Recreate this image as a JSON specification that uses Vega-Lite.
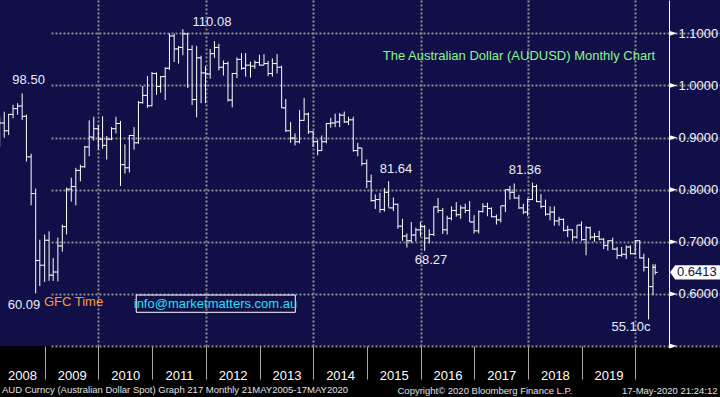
{
  "$schema": "https://vega.github.io/schema/vega-lite/v6.json",
  "width": 720,
  "height": 346,
  "autosize": {"type": "none"},
  "padding": {"left": 0, "top": 0, "right": 0, "bottom": 51},
  "background": "#000000",
  "view": {"fill": "#100f48", "stroke": null},
  "title": {
    "text": "AUD Curncy (Australian Dollar Spot) Graph 217  Monthly 21MAY2005-17MAY2020",
    "orient": "top",
    "anchor": "start",
    "frame": "group",
    "offset": 0,
    "dx": 2,
    "dy": 402,
    "baseline": "alphabetic",
    "font": "Liberation Sans",
    "fontSize": 9.5,
    "fontWeight": "normal",
    "color": "#e0e0e0"
  },
  "datasets": {
    "ohlc": [
      {"date":"2008-02-29","open":0.894,"high":0.940,"low":0.882,"close":0.928},
      {"date":"2008-03-31","open":0.928,"high":0.9497,"low":0.8995,"close":0.913},
      {"date":"2008-04-30","open":0.913,"high":0.9452,"low":0.905,"close":0.9445},
      {"date":"2008-05-30","open":0.9445,"high":0.9626,"low":0.9369,"close":0.9555},
      {"date":"2008-06-30","open":0.9555,"high":0.966,"low":0.944,"close":0.9605},
      {"date":"2008-07-31","open":0.9605,"high":0.985,"low":0.9335,"close":0.9408},
      {"date":"2008-08-29","open":0.9408,"high":0.944,"low":0.854,"close":0.863},
      {"date":"2008-09-30","open":0.863,"high":0.869,"low":0.770,"close":0.7925},
      {"date":"2008-10-31","open":0.7925,"high":0.802,"low":0.6009,"close":0.664},
      {"date":"2008-11-28","open":0.664,"high":0.704,"low":0.615,"close":0.655},
      {"date":"2008-12-31","open":0.655,"high":0.714,"low":0.623,"close":0.703},
      {"date":"2009-01-30","open":0.703,"high":0.720,"low":0.625,"close":0.636},
      {"date":"2009-02-27","open":0.636,"high":0.669,"low":0.625,"close":0.642},
      {"date":"2009-03-31","open":0.642,"high":0.708,"low":0.624,"close":0.692},
      {"date":"2009-04-30","open":0.692,"high":0.733,"low":0.681,"close":0.729},
      {"date":"2009-05-29","open":0.729,"high":0.804,"low":0.714,"close":0.801},
      {"date":"2009-06-30","open":0.801,"high":0.823,"low":0.777,"close":0.806},
      {"date":"2009-07-31","open":0.806,"high":0.842,"low":0.770,"close":0.837},
      {"date":"2009-08-31","open":0.837,"high":0.848,"low":0.816,"close":0.844},
      {"date":"2009-09-30","open":0.844,"high":0.884,"low":0.842,"close":0.882},
      {"date":"2009-10-30","open":0.882,"high":0.933,"low":0.864,"close":0.901},
      {"date":"2009-11-30","open":0.901,"high":0.940,"low":0.894,"close":0.917},
      {"date":"2009-12-31","open":0.917,"high":0.924,"low":0.877,"close":0.897},
      {"date":"2010-01-29","open":0.897,"high":0.941,"low":0.879,"close":0.885},
      {"date":"2010-02-26","open":0.885,"high":0.903,"low":0.858,"close":0.897},
      {"date":"2010-03-31","open":0.897,"high":0.920,"low":0.895,"close":0.917},
      {"date":"2010-04-30","open":0.917,"high":0.940,"low":0.908,"close":0.927},
      {"date":"2010-05-31","open":0.927,"high":0.932,"low":0.807,"close":0.848},
      {"date":"2010-06-30","open":0.848,"high":0.887,"low":0.831,"close":0.842},
      {"date":"2010-07-30","open":0.842,"high":0.905,"low":0.833,"close":0.904},
      {"date":"2010-08-31","open":0.904,"high":0.920,"low":0.877,"close":0.890},
      {"date":"2010-09-30","open":0.890,"high":0.970,"low":0.888,"close":0.967},
      {"date":"2010-10-29","open":0.967,"high":0.999,"low":0.965,"close":0.981},
      {"date":"2010-11-30","open":0.981,"high":1.018,"low":0.957,"close":0.961},
      {"date":"2010-12-31","open":0.961,"high":1.026,"low":0.960,"close":1.023},
      {"date":"2011-01-31","open":1.023,"high":1.025,"low":0.982,"close":0.998},
      {"date":"2011-02-28","open":0.998,"high":1.018,"low":0.986,"close":1.017},
      {"date":"2011-03-31","open":1.017,"high":1.035,"low":0.972,"close":1.033},
      {"date":"2011-04-29","open":1.033,"high":1.100,"low":1.030,"close":1.095},
      {"date":"2011-05-31","open":1.095,"high":1.099,"low":1.045,"close":1.070},
      {"date":"2011-06-30","open":1.070,"high":1.076,"low":1.042,"close":1.073},
      {"date":"2011-07-29","open":1.073,"high":1.108,"low":1.058,"close":1.099},
      {"date":"2011-08-31","open":1.099,"high":1.101,"low":0.995,"close":1.069},
      {"date":"2011-09-30","open":1.069,"high":1.077,"low":0.9625,"close":0.973},
      {"date":"2011-10-31","open":0.973,"high":1.076,"low":0.939,"close":1.053},
      {"date":"2011-11-30","open":1.053,"high":1.057,"low":0.966,"close":1.024},
      {"date":"2011-12-30","open":1.024,"high":1.037,"low":0.966,"close":1.022},
      {"date":"2012-01-31","open":1.022,"high":1.070,"low":1.013,"close":1.061},
      {"date":"2012-02-29","open":1.061,"high":1.085,"low":1.053,"close":1.073},
      {"date":"2012-03-30","open":1.073,"high":1.080,"low":1.029,"close":1.035},
      {"date":"2012-04-30","open":1.035,"high":1.048,"low":1.019,"close":1.042},
      {"date":"2012-05-31","open":1.042,"high":1.046,"low":0.969,"close":0.972},
      {"date":"2012-06-29","open":0.972,"high":1.024,"low":0.958,"close":1.023},
      {"date":"2012-07-31","open":1.023,"high":1.054,"low":1.014,"close":1.050},
      {"date":"2012-08-31","open":1.050,"high":1.062,"low":1.030,"close":1.033},
      {"date":"2012-09-28","open":1.033,"high":1.062,"low":1.017,"close":1.039},
      {"date":"2012-10-31","open":1.039,"high":1.046,"low":1.015,"close":1.037},
      {"date":"2012-11-30","open":1.037,"high":1.048,"low":1.032,"close":1.044},
      {"date":"2012-12-31","open":1.044,"high":1.059,"low":1.038,"close":1.039},
      {"date":"2013-01-31","open":1.039,"high":1.060,"low":1.039,"close":1.042},
      {"date":"2013-02-28","open":1.042,"high":1.047,"low":1.018,"close":1.023},
      {"date":"2013-03-29","open":1.023,"high":1.052,"low":1.017,"close":1.042},
      {"date":"2013-04-30","open":1.042,"high":1.060,"low":1.023,"close":1.035},
      {"date":"2013-05-31","open":1.035,"high":1.038,"low":0.957,"close":0.957},
      {"date":"2013-06-28","open":0.957,"high":0.974,"low":0.911,"close":0.913},
      {"date":"2013-07-31","open":0.913,"high":0.930,"low":0.890,"close":0.899},
      {"date":"2013-08-30","open":0.899,"high":0.908,"low":0.885,"close":0.892},
      {"date":"2013-09-30","open":0.892,"high":0.953,"low":0.889,"close":0.933},
      {"date":"2013-10-31","open":0.933,"high":0.976,"low":0.932,"close":0.945},
      {"date":"2013-11-29","open":0.945,"high":0.948,"low":0.907,"close":0.911},
      {"date":"2013-12-31","open":0.911,"high":0.913,"low":0.882,"close":0.892},
      {"date":"2014-01-31","open":0.892,"high":0.896,"low":0.866,"close":0.875},
      {"date":"2014-02-28","open":0.875,"high":0.904,"low":0.874,"close":0.892},
      {"date":"2014-03-31","open":0.892,"high":0.928,"low":0.889,"close":0.927},
      {"date":"2014-04-30","open":0.927,"high":0.938,"low":0.919,"close":0.928},
      {"date":"2014-05-30","open":0.928,"high":0.946,"low":0.920,"close":0.930},
      {"date":"2014-06-30","open":0.930,"high":0.947,"low":0.920,"close":0.943},
      {"date":"2014-07-31","open":0.943,"high":0.950,"low":0.928,"close":0.930},
      {"date":"2014-08-29","open":0.930,"high":0.940,"low":0.924,"close":0.934},
      {"date":"2014-09-30","open":0.934,"high":0.940,"low":0.873,"close":0.875},
      {"date":"2014-10-31","open":0.875,"high":0.890,"low":0.864,"close":0.880},
      {"date":"2014-11-28","open":0.880,"high":0.880,"low":0.846,"close":0.850},
      {"date":"2014-12-31","open":0.850,"high":0.858,"low":0.803,"close":0.816},
      {"date":"2015-01-30","open":0.816,"high":0.829,"low":0.777,"close":0.779},
      {"date":"2015-02-27","open":0.779,"high":0.791,"low":0.763,"close":0.781},
      {"date":"2015-03-31","open":0.781,"high":0.794,"low":0.756,"close":0.762},
      {"date":"2015-04-30","open":0.762,"high":0.803,"low":0.758,"close":0.795},
      {"date":"2015-05-29","open":0.795,"high":0.8164,"low":0.766,"close":0.765},
      {"date":"2015-06-30","open":0.765,"high":0.785,"low":0.759,"close":0.772},
      {"date":"2015-07-31","open":0.772,"high":0.773,"low":0.725,"close":0.730},
      {"date":"2015-08-31","open":0.730,"high":0.744,"low":0.702,"close":0.711},
      {"date":"2015-09-30","open":0.711,"high":0.716,"low":0.689,"close":0.702},
      {"date":"2015-10-30","open":0.702,"high":0.738,"low":0.698,"close":0.713},
      {"date":"2015-11-30","open":0.713,"high":0.727,"low":0.701,"close":0.723},
      {"date":"2015-12-31","open":0.723,"high":0.738,"low":0.710,"close":0.729},
      {"date":"2016-01-29","open":0.729,"high":0.732,"low":0.6827,"close":0.707},
      {"date":"2016-02-29","open":0.707,"high":0.724,"low":0.697,"close":0.714},
      {"date":"2016-03-31","open":0.714,"high":0.768,"low":0.711,"close":0.767},
      {"date":"2016-04-29","open":0.767,"high":0.784,"low":0.755,"close":0.760},
      {"date":"2016-05-31","open":0.760,"high":0.765,"low":0.715,"close":0.723},
      {"date":"2016-06-30","open":0.723,"high":0.750,"low":0.714,"close":0.745},
      {"date":"2016-07-29","open":0.745,"high":0.768,"low":0.741,"close":0.760},
      {"date":"2016-08-31","open":0.760,"high":0.776,"low":0.748,"close":0.752},
      {"date":"2016-09-30","open":0.752,"high":0.770,"low":0.744,"close":0.765},
      {"date":"2016-10-31","open":0.765,"high":0.773,"low":0.755,"close":0.760},
      {"date":"2016-11-30","open":0.760,"high":0.778,"low":0.738,"close":0.738},
      {"date":"2016-12-30","open":0.738,"high":0.751,"low":0.716,"close":0.721},
      {"date":"2017-01-31","open":0.721,"high":0.760,"low":0.716,"close":0.758},
      {"date":"2017-02-28","open":0.758,"high":0.774,"low":0.756,"close":0.768},
      {"date":"2017-03-31","open":0.768,"high":0.775,"low":0.749,"close":0.764},
      {"date":"2017-04-28","open":0.764,"high":0.766,"low":0.747,"close":0.748},
      {"date":"2017-05-31","open":0.748,"high":0.752,"low":0.733,"close":0.742},
      {"date":"2017-06-30","open":0.742,"high":0.769,"low":0.737,"close":0.769},
      {"date":"2017-07-31","open":0.769,"high":0.800,"low":0.757,"close":0.800},
      {"date":"2017-08-31","open":0.800,"high":0.807,"low":0.781,"close":0.795},
      {"date":"2017-09-29","open":0.795,"high":0.812,"low":0.783,"close":0.784},
      {"date":"2017-10-31","open":0.784,"high":0.790,"low":0.763,"close":0.765},
      {"date":"2017-11-30","open":0.765,"high":0.773,"low":0.753,"close":0.757},
      {"date":"2017-12-29","open":0.757,"high":0.783,"low":0.750,"close":0.781},
      {"date":"2018-01-31","open":0.781,"high":0.8136,"low":0.780,"close":0.806},
      {"date":"2018-02-28","open":0.806,"high":0.810,"low":0.776,"close":0.777},
      {"date":"2018-03-30","open":0.777,"high":0.792,"low":0.764,"close":0.768},
      {"date":"2018-04-30","open":0.768,"high":0.781,"low":0.750,"close":0.753},
      {"date":"2018-05-31","open":0.753,"high":0.768,"low":0.741,"close":0.757},
      {"date":"2018-06-29","open":0.757,"high":0.768,"low":0.731,"close":0.740},
      {"date":"2018-07-31","open":0.740,"high":0.748,"low":0.731,"close":0.743},
      {"date":"2018-08-31","open":0.743,"high":0.745,"low":0.720,"close":0.722},
      {"date":"2018-09-28","open":0.722,"high":0.731,"low":0.709,"close":0.723},
      {"date":"2018-10-31","open":0.723,"high":0.724,"low":0.702,"close":0.709},
      {"date":"2018-11-30","open":0.709,"high":0.732,"low":0.706,"close":0.732},
      {"date":"2018-12-31","open":0.732,"high":0.739,"low":0.702,"close":0.704},
      {"date":"2019-01-31","open":0.704,"high":0.730,"low":0.674,"close":0.727},
      {"date":"2019-02-28","open":0.727,"high":0.729,"low":0.704,"close":0.709},
      {"date":"2019-03-29","open":0.709,"high":0.717,"low":0.700,"close":0.710},
      {"date":"2019-04-30","open":0.710,"high":0.721,"low":0.703,"close":0.705},
      {"date":"2019-05-31","open":0.705,"high":0.707,"low":0.686,"close":0.693},
      {"date":"2019-06-28","open":0.693,"high":0.703,"low":0.683,"close":0.702},
      {"date":"2019-07-31","open":0.702,"high":0.708,"low":0.685,"close":0.686},
      {"date":"2019-08-30","open":0.686,"high":0.690,"low":0.667,"close":0.674},
      {"date":"2019-09-30","open":0.674,"high":0.690,"low":0.671,"close":0.676},
      {"date":"2019-10-31","open":0.676,"high":0.693,"low":0.667,"close":0.690},
      {"date":"2019-11-29","open":0.690,"high":0.693,"low":0.676,"close":0.677},
      {"date":"2019-12-31","open":0.677,"high":0.703,"low":0.675,"close":0.702},
      {"date":"2020-01-31","open":0.702,"high":0.703,"low":0.668,"close":0.669},
      {"date":"2020-02-28","open":0.669,"high":0.677,"low":0.643,"close":0.651},
      {"date":"2020-03-31","open":0.651,"high":0.669,"low":0.551,"close":0.614},
      {"date":"2020-04-30","open":0.614,"high":0.657,"low":0.598,"close":0.651},
      {"date":"2020-05-15","open":0.651,"high":0.657,"low":0.637,"close":0.6413}
    ],
    "notes": [
      {"kind":"num","text":"110.08","date":"2012-02-12","value":1.1218},
      {"kind":"num","text":"98.50","date":"2008-09-13","value":1.0105},
      {"kind":"num","text":"81.64","date":"2015-07-18","value":0.8397},
      {"kind":"num","text":"81.36","date":"2017-12-11","value":0.8378},
      {"kind":"num","text":"68.27","date":"2016-03-12","value":0.665},
      {"kind":"num","text":"60.09","date":"2008-08-12","value":0.5787},
      {"kind":"num","text":"55.10c","date":"2019-12-02","value":0.5365},
      {"kind":"gfc","text":"GFC Time","date":"2008-12-26","value":0.5844},
      {"kind":"info","text":"info@marketmatters.com.au","date":"2012-03-07","value":0.5806},
      {"kind":"title","text":"The Australian Dollar (AUDUSD) Monthly Chart","date":"2017-10-31","value":1.0556}
    ],
    "box": [
      {"start":"2010-09-15","end":"2013-09-01","top":0.5979,"bottom":0.5647}
    ],
    "last": [
      {"label":"0.6413","value":0.6413}
    ],
    "ticks": [
      {"tick":0.5},{"tick":0.6},{"tick":0.7},{"tick":0.8},{"tick":0.9},{"tick":1.0},{"tick":1.1}
    ]
  },
  "layer": [
    {
      "data": {"name": "ohlc"},
      "mark": {"type": "rule", "color": "#ffffff", "strokeWidth": 1},
      "encoding": {
        "x": {
          "field": "date",
          "type": "temporal",
          "scale": {
            "domain": [{"year": 2008, "month": 1, "date": 1}, {"year": 2020, "month": 8, "date": 17}],
            "range": [-9, 669]
          },
          "axis": {
            "values": [
              {"year": 2008, "month": 1, "date": 1},
              {"year": 2009, "month": 1, "date": 1},
              {"year": 2010, "month": 1, "date": 1},
              {"year": 2011, "month": 1, "date": 1},
              {"year": 2012, "month": 1, "date": 1},
              {"year": 2013, "month": 1, "date": 1},
              {"year": 2014, "month": 1, "date": 1},
              {"year": 2015, "month": 1, "date": 1},
              {"year": 2016, "month": 1, "date": 1},
              {"year": 2017, "month": 1, "date": 1},
              {"year": 2018, "month": 1, "date": 1},
              {"year": 2019, "month": 1, "date": 1},
              {"year": 2020, "month": 1, "date": 1}
            ],
            "domain": false,
            "grid": true,
            "gridColor": "#8c8c8c",
            "gridDash": [2, 2],
            "gridWidth": 2,
            "gridOpacity": {"condition": {"test": "year(datum.value) % 2 == 1", "value": 0}, "value": 1},
            "ticks": true,
            "tickSize": 33,
            "tickColor": "#a8a8a8",
            "tickWidth": 1,
            "labelExpr": "year(datum.value) >= 2020 ? '' : timeFormat(datum.value, '%Y')",
            "labelOffset": {"condition": {"test": "year(datum.value) == 2008", "value": 31}, "value": 26.85},
            "labelPadding": 0,
            "labelBaseline": "alphabetic",
            "labelAlign": "center",
            "labelFont": "Liberation Sans",
            "labelFontSize": 13,
            "labelColor": "#ffffff",
            "labelFlush": false,
            "labelOverlap": false,
            "labelBound": false,
            "title": "Copyright© 2020 Bloomberg Finance L.P.",
            "titleX": 397,
            "titleY": 47,
            "titleAlign": "left",
            "titleBaseline": "alphabetic",
            "titleFont": "Liberation Sans",
            "titleFontSize": 9.5,
            "titleFontWeight": "normal",
            "titleColor": "#e0e0e0"
          }
        },
        "y": {
          "field": "low",
          "type": "quantitative",
          "scale": {"domain": [0.5, 1.164], "nice": false, "zero": false},
          "axis": {
            "orient": "right",
            "offset": -51,
            "values": [0.5, 0.55, 0.6, 0.65, 0.7, 0.75, 0.8, 0.85, 0.9, 0.95, 1.0, 1.05, 1.1, 1.15],
            "domain": true,
            "domainColor": "#ffffff",
            "domainWidth": 1,
            "ticks": true,
            "tickSize": 4,
            "tickColor": "#ffffff",
            "tickWidth": 1,
            "grid": true,
            "gridColor": "#8c8c8c",
            "gridDash": [2, 2],
            "gridWidth": 2,
            "gridOpacity": {"condition": {"test": "round(datum.value * 20) % 2 == 1 || datum.value > 1.12", "value": 0}, "value": 1},
            "labelExpr": "(round(datum.value * 20) % 2 == 0 && datum.value > 0.55 && datum.value < 1.12) ? format(datum.value, '.4f') : ''",
            "labelPadding": 5,
            "labelFont": "Liberation Sans",
            "labelFontSize": 13,
            "labelColor": "#f0f2ff",
            "labelBaseline": "middle",
            "labelFlush": false,
            "labelOverlap": false,
            "title": "17-May-2020 21:24:12",
            "titleAngle": 0,
            "titleX": 48,
            "titleY": 393,
            "titleAlign": "right",
            "titleBaseline": "alphabetic",
            "titleFont": "Liberation Sans",
            "titleFontSize": 9.5,
            "titleFontWeight": "normal",
            "titleColor": "#e0e0e0"
          }
        },
        "y2": {"field": "high"}
      }
    },
    {
      "data": {"name": "ohlc"},
      "mark": {"type": "rule", "color": "#ffffff", "strokeWidth": 1, "xOffset": -2.5, "x2Offset": 0},
      "encoding": {
        "x": {"field": "date", "type": "temporal"},
        "x2": {"field": "date"},
        "y": {"field": "open", "type": "quantitative"}
      }
    },
    {
      "data": {"name": "ohlc"},
      "mark": {"type": "rule", "color": "#ffffff", "strokeWidth": 1, "xOffset": 0, "x2Offset": 2.5},
      "encoding": {
        "x": {"field": "date", "type": "temporal"},
        "x2": {"field": "date"},
        "y": {"field": "close", "type": "quantitative"}
      }
    },
    {
      "data": {"name": "box"},
      "mark": {"type": "rect", "fill": "transparent", "stroke": "#ffffff", "strokeWidth": 1},
      "encoding": {
        "x": {"field": "start", "type": "temporal"},
        "x2": {"field": "end"},
        "y": {"field": "top", "type": "quantitative"},
        "y2": {"field": "bottom"}
      }
    },
    {
      "data": {"name": "notes"},
      "transform": [{"filter": "datum.kind == 'num'"}],
      "mark": {"type": "text", "font": "Liberation Sans", "fontSize": 13, "color": "#e8edff", "align": "center", "baseline": "middle"},
      "encoding": {
        "x": {"field": "date", "type": "temporal"},
        "y": {"field": "value", "type": "quantitative"},
        "text": {"field": "text"}
      }
    },
    {
      "data": {"name": "notes"},
      "transform": [{"filter": "datum.kind == 'gfc'"}],
      "mark": {"type": "text", "font": "Liberation Sans", "fontSize": 13, "color": "#ff9d2e", "align": "left", "baseline": "middle"},
      "encoding": {
        "x": {"field": "date", "type": "temporal"},
        "y": {"field": "value", "type": "quantitative"},
        "text": {"field": "text"}
      }
    },
    {
      "data": {"name": "notes"},
      "transform": [{"filter": "datum.kind == 'info'"}],
      "mark": {"type": "text", "font": "Liberation Sans", "fontSize": 13, "color": "#1ee4f2", "align": "center", "baseline": "middle"},
      "encoding": {
        "x": {"field": "date", "type": "temporal"},
        "y": {"field": "value", "type": "quantitative"},
        "text": {"field": "text"}
      }
    },
    {
      "data": {"name": "notes"},
      "transform": [{"filter": "datum.kind == 'title'"}],
      "mark": {"type": "text", "font": "Liberation Sans", "fontSize": 13, "color": "#8cf58c", "align": "center", "baseline": "middle"},
      "encoding": {
        "x": {"field": "date", "type": "temporal"},
        "y": {"field": "value", "type": "quantitative"},
        "text": {"field": "text"}
      }
    },
    {
      "data": {"name": "ticks"},
      "mark": {"type": "point", "shape": "M-1,-0.65L1,0L-1,0.65Z", "size": 64, "filled": true, "color": "#ffffff", "opacity": 1, "strokeWidth": 0, "xOffset": 4},
      "encoding": {
        "x": {"datum": {"year": 2020, "month": 8, "date": 17}, "type": "temporal"},
        "y": {"field": "tick", "type": "quantitative"}
      }
    },
    {
      "data": {"name": "last"},
      "mark": {"type": "point", "shape": "M-1,0L-0.8,-0.27L1,-0.27L1,0.27L-0.8,0.27Z", "size": 2704, "filled": true, "color": "#ffffff", "opacity": 1, "strokeWidth": 0, "xOffset": 27},
      "encoding": {
        "x": {"datum": {"year": 2020, "month": 8, "date": 17}, "type": "temporal"},
        "y": {"field": "value", "type": "quantitative"}
      }
    },
    {
      "data": {"name": "last"},
      "mark": {"type": "text", "font": "Liberation Sans", "fontSize": 13, "color": "#100f48", "align": "left", "baseline": "middle", "dx": 8},
      "encoding": {
        "x": {"datum": {"year": 2020, "month": 8, "date": 17}, "type": "temporal"},
        "y": {"field": "value", "type": "quantitative"},
        "text": {"field": "label"}
      }
    }
  ]
}
